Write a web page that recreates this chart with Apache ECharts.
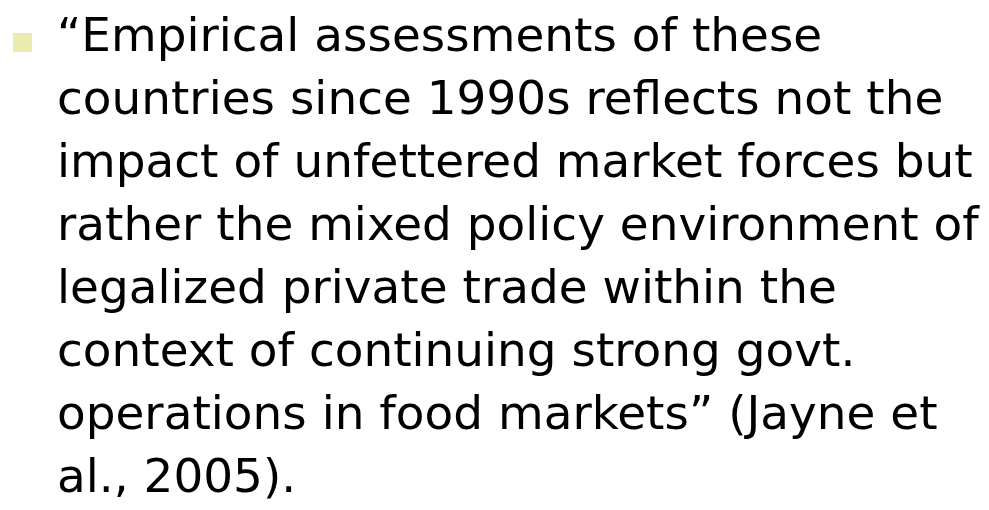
<!DOCTYPE html>
<html>
<head>
<meta charset="utf-8">
<script src="https://cdn.jsdelivr.net/npm/echarts@6/dist/echarts.min.js"></script>
<style>
  html, body { margin: 0; padding: 0; background: #fff; }
  #slide { width: 989px; height: 510px; }
</style>
</head>
<body>
<div id="slide"></div>
<script>
// slide text, one entry per rendered line
const lines = [
  '\u201CEmpirical assessments of these',
  'countries since 1990s reflects not the',
  'impact of unfettered market forces but',
  'rather the mixed policy environment of',
  'legalized private trade within the',
  'context of continuing strong govt.',
  'operations in food markets\u201D (Jayne et',
  'al., 2005).'
];
const bulletColor = '#EBEBAF';

const chart = echarts.init(document.getElementById('slide'), null, { renderer: 'canvas' });

const textLeft = 57;
const firstMid = 39;
const lineGap = 63;

let elements = [
  {
    type: 'rect',
    shape: { x: 13, y: 33, width: 19, height: 19 },
    style: { fill: bulletColor }
  }
];
lines.forEach((txt, i) => {
  elements.push({
    type: 'text',
    x: textLeft,
    y: firstMid + i * lineGap,
    scaleX: 1.02,
    style: {
      text: txt,
      font: '46px "DejaVu Sans", Verdana, sans-serif',
      fill: '#000',
      verticalAlign: 'middle',
      align: 'left'
    }
  });
});

let option = {
  backgroundColor: '#fff',
  graphic: { elements: elements }
};
option && chart.setOption(option);
</script>
</body>
</html>
